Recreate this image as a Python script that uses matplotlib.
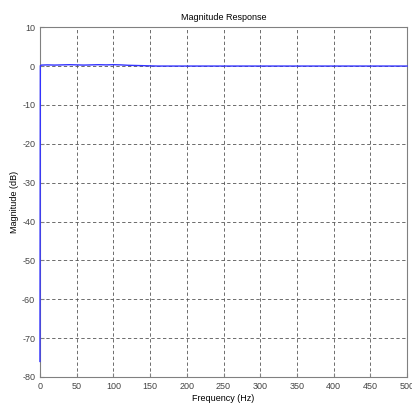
import matplotlib
matplotlib.use("Agg")
import matplotlib.pyplot as plt

plt.rcParams['font.family'] = ['Liberation Sans', 'DejaVu Sans']
plt.rcParams['axes.unicode_minus'] = False

freq_hz = [0, 0.5, 2, 10, 20, 30, 40, 50, 60, 70, 80, 90, 100, 110, 120, 130, 140, 150, 160, 500]
mag_db = [-76, 0.1, 0.25, 0.3, 0.25, 0.3, 0.35, 0.3, 0.25, 0.3, 0.35, 0.3, 0.35, 0.3, 0.2, 0.15, 0.1, 0.05, 0.0, 0.0]
xticks = [0, 50, 100, 150, 200, 250, 300, 350, 400, 450, 500]
yticks = [10, 0, -10, -20, -30, -40, -50, -60, -70, -80]

fig = plt.figure(figsize=(4.12, 4.12), dpi=100)
ax = fig.add_axes([0.097, 0.085, 0.891, 0.849])
ax.plot(freq_hz, mag_db, color='#3333ff', lw=1.0, clip_on=False, zorder=5)
ax.set_xlim(0, 500)
ax.set_ylim(-80, 10)
ax.set_xticks(xticks)
ax.set_yticks(yticks)
ax.grid(True, ls=(0, (4, 3)), color='#555555', lw=0.6)
for s in ax.spines.values():
    s.set_color('#808080')
ax.tick_params(direction='in', length=3, colors='#808080', labelcolor='#444444', labelsize=6.5)
ax.set_xlabel('Frequency (Hz)', fontsize=6.5, labelpad=2)
ax.set_ylabel('Magnitude (dB)', fontsize=6.5, labelpad=2)
ax.set_title('Magnitude Response', fontsize=6.5, pad=5)
fig.savefig('out.png', dpi=100)
